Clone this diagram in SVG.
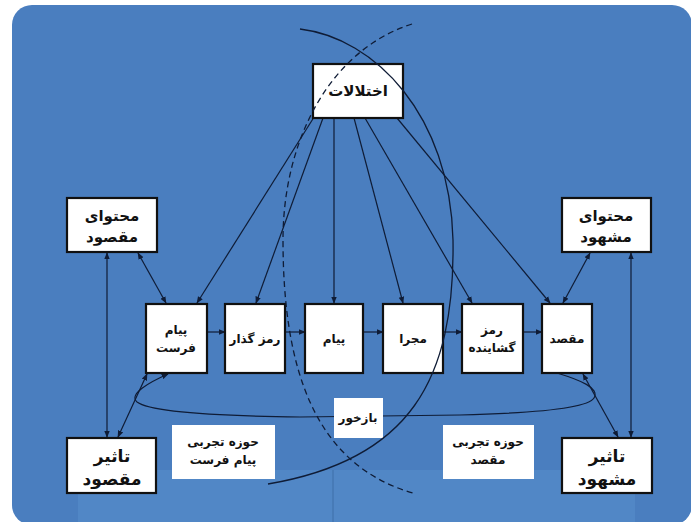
<svg xmlns="http://www.w3.org/2000/svg" width="691" height="522" viewBox="0 0 691 522">
<defs>
<marker id="ah" viewBox="0 0 10 10" refX="9" refY="5" markerWidth="7" markerHeight="7" markerUnits="userSpaceOnUse" orient="auto-start-reverse">
<path d="M0,1 L10,5 L0,9 Z" fill="#0f1c36"/>
</marker>
<style>
.bx{fill:#fff;stroke:#111;stroke-width:2.2}
.lb{fill:#fff;stroke:none}
.ln{fill:none;stroke:#0f1c36;stroke-width:1.2}
.one{marker-end:url(#ah)}
.two{marker-start:url(#ah);marker-end:url(#ah)}
.arc{fill:none;stroke:#0f1c36;stroke-width:1.3}
.t{font-family:'DejaVu Sans','Noto Sans',sans-serif;font-weight:bold;fill:#111;text-anchor:middle}
.s12{font-size:12px}
.s15{font-size:15px}
.s17{font-size:17px}
</style>
</defs>
<rect x="0" y="0" width="691" height="522" fill="#fff"/>
<rect x="12" y="5" width="680" height="520" rx="20" fill="#4a7ebf"/>
<rect x="78" y="470" width="557" height="52" fill="#5187c6"/>
<line x1="333" y1="470" x2="333" y2="522" stroke="#3f6fa8" stroke-width="1"/>

<g id="connectors">
<path class="ln one" d="M316,114 L197,303"/>
<path class="ln one" d="M323,118 L256,303"/>
<path class="ln one" d="M334,118 L334,303"/>
<path class="ln one" d="M354,118 L403,303"/>
<path class="ln one" d="M365,118 L472,303"/>
<path class="ln one" d="M397,118 L550,303"/>
<path class="ln two" d="M138,253 L166,303"/>
<path class="ln two" d="M590,253 L563,303"/>
<path class="ln two" d="M107,253 L107,437"/>
<path class="ln two" d="M631,253 L631,437"/>
<path class="ln two" d="M118,437 L147,374"/>
<path class="ln two" d="M618,437 L583,374"/>
<path class="ln one" d="M207,332 L225,332"/>
<path class="ln one" d="M285,332 L305,332"/>
<path class="ln one" d="M363,332 L383,332"/>
<path class="ln one" d="M443,332 L462,332"/>
<path class="ln one" d="M523,332 L542,332"/>
<path class="ln one" d="M557,373 C580,380 600,388 594,398 C588,408 540,413 460,415 L300,417 C220,416 150,412 137,402 C128,394 150,382 168,374"/>
</g>

<g id="n-ekhtelalat"><rect class="bx" x="313" y="64" width="90" height="54"/><text class="t s15" x="358" y="96">اختلالات</text></g>
<g id="n-mohtava-maghsood"><rect class="bx" x="67" y="198" width="90" height="54"/><text class="t s15" x="112" y="221">محتوای</text><text class="t s15" x="112" y="242">مقصود</text></g>
<g id="n-mohtava-mashhood"><rect class="bx" x="562" y="198" width="89" height="54"/><text class="t s15" x="606" y="221">محتوای</text><text class="t s15" x="606" y="242">مشهود</text></g>
<g id="n-payamfarest"><rect class="bx" x="146" y="304" width="61" height="69"/><text class="t s12" x="176" y="334">پیام</text><text class="t s12" x="176" y="352">فرست</text></g>
<g id="n-ramzgozar"><rect class="bx" x="225" y="304" width="60" height="69"/><text class="t s12" x="255" y="343">رمز گذار</text></g>
<g id="n-payam"><rect class="bx" x="305" y="304" width="58" height="69"/><text class="t s12" x="334" y="343">پیام</text></g>
<g id="n-majra"><rect class="bx" x="383" y="304" width="60" height="69"/><text class="t s12" x="413" y="343">مجرا</text></g>
<g id="n-ramzgoshayande"><rect class="bx" x="462" y="304" width="61" height="69"/><text class="t s12" x="492" y="334">رمز</text><text class="t s12" x="492" y="352">گشاینده</text></g>
<g id="n-maghsad"><rect class="bx" x="542" y="304" width="50" height="69"/><text class="t s12" x="567" y="343">مقصد</text></g>
<g id="n-tasir-maghsood"><rect class="bx" x="67" y="438" width="89" height="55"/><text class="t s17" x="112" y="462">تاثیر</text><text class="t s17" x="112" y="485">مقصود</text></g>
<g id="n-tasir-mashhood"><rect class="bx" x="562" y="438" width="90" height="55"/><text class="t s17" x="607" y="462">تاثیر</text><text class="t s17" x="607" y="485">مشهود</text></g>
<g id="n-hoze-farest"><rect class="lb" x="172" y="425" width="103" height="54"/><text class="t s12" x="223" y="446">حوزه تجربی</text><text class="t s12" x="223" y="464">پیام فرست</text></g>
<g id="n-hoze-maghsad"><rect class="lb" x="443" y="425" width="91" height="54"/><text class="t s12" x="488" y="446">حوزه تجربی</text><text class="t s12" x="488" y="464">مقصد</text></g>
<g id="n-bazkhor"><rect class="lb" x="334" y="398" width="49" height="40"/><text class="t s12" x="358" y="422">بازخور</text></g>

<g id="arcs">
<path class="arc" d="M300,29 C375,38 450,115 453,240 C455,380 410,460 268,484"/>
<path class="arc" stroke-dasharray="6,4" d="M412,24 C330,50 283,140 283,240 C283,370 315,465 413,493"/>
</g>
</svg>
